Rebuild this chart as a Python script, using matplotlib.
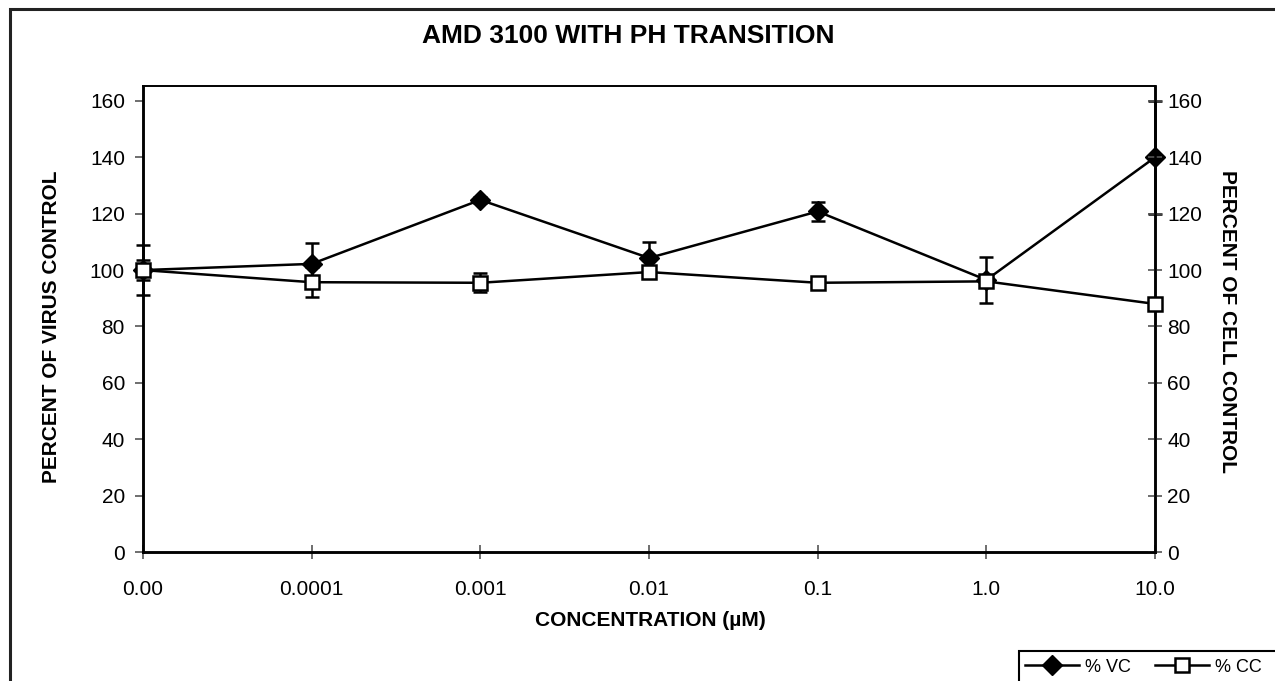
import numpy as np
import matplotlib.pyplot as plt
from matplotlib.patches import Rectangle
from matplotlib.lines import Line2D

plt.rcParams['font.family'] = ['Liberation Sans', 'DejaVu Sans']

# ---- data ----
conc_labels = ['0.00', '0.0001', '0.001', '0.01', '0.1', '1.0', '10.0']
vc_mean = [100.0, 102.2, 124.9, 104.3, 120.8, 96.5, 140.0]
vc_err = [3.5, 7.5, 1.0, 5.7, 3.5, 8.0, 20.0]
cc_mean = [100.0, 95.7, 95.5, 99.3, 95.5, 96.0, 88.0]
cc_err = [9.0, 5.3, 3.4, 0.0, 0.0, 0.0, 0.0]
y_ticks = [0, 20, 40, 60, 80, 100, 120, 140, 160]

W, H = 1275, 681
fig = plt.figure(figsize=(W / 100, H / 100), dpi=100)
fig.patch.set_facecolor('white')

# outer chart border (runs off the right/bottom edge)
fig.patches.append(Rectangle((9.5 / W, -0.1), 1.2, (H - 8.5) / H + 0.1,
                             transform=fig.transFigure, fill=False,
                             edgecolor='#222222', linewidth=2.2, zorder=0))

ax = fig.add_axes([143 / W, 1 - 552 / H, (1155 - 143) / W, (552 - 86) / H])
ax2 = ax.twinx()

x = np.arange(len(conc_labels))
ymax = 165.3

line_kw = dict(color='black', linewidth=1.8, ecolor='black', elinewidth=1.8,
               capsize=5, capthick=1.8, clip_on=False)

ax.errorbar(x, vc_mean, yerr=vc_err, marker='D', markersize=10,
            markerfacecolor='black', markeredgecolor='black',
            zorder=4, **line_kw)
ax2.errorbar(x, cc_mean, yerr=cc_err, marker='s', markersize=10,
             markerfacecolor='white', markeredgecolor='black',
             markeredgewidth=1.8, zorder=5, **line_kw)

for a in (ax, ax2):
    a.set_ylim(0, ymax)
    a.set_yticks(y_ticks)
    a.tick_params(labelsize=15, width=1.2, color='#555555')
    for s in a.spines.values():
        s.set_linewidth(1.8)
    a.spines['top'].set_linewidth(1.2)

ax.set_xlim(0, len(conc_labels) - 1)
ax.set_xticks(x)
ax.set_xticklabels(conc_labels)
ax.tick_params(axis='x', direction='inout', length=10, pad=15)
ax.tick_params(axis='y', direction='out', length=6, pad=7)
ax2.tick_params(axis='y', direction='inout', length=10, pad=4)

# titles and axis labels
fig.text(628 / W, 1 - 36 / H, 'AMD 3100 WITH PH TRANSITION', ha='center',
         va='center', fontsize=19, fontweight='bold')
fig.text(52 / W, 1 - 327 / H, 'PERCENT OF VIRUS CONTROL', ha='center',
         va='center', rotation=90, fontsize=15, fontweight='bold')
fig.text(1228 / W, 1 - 321 / H, 'PERCENT OF CELL CONTROL', ha='center',
         va='center', rotation=270, fontsize=15, fontweight='bold')
fig.text(650 / W, 1 - 620 / H, 'CONCENTRATION (\u00b5M)', ha='center',
         va='center', fontsize=15, fontweight='bold')

# legend: box runs off the right edge of the chart
fig.patches.append(Rectangle((1019 / W, -0.1), 0.3, (H - 651) / H + 0.1,
                             transform=fig.transFigure, fill=False,
                             edgecolor='black', linewidth=1.5, zorder=1))
handles = [
    Line2D([], [], color='black', linewidth=1.8, marker='D', markersize=10,
           markerfacecolor='black', label='% VC'),
    Line2D([], [], color='black', linewidth=1.8, marker='s', markersize=10,
           markerfacecolor='white', markeredgewidth=1.8, label='% CC'),
]
fig.legend(handles=handles, loc='center left',
           bbox_to_anchor=(1025 / W, 1 - 667 / H), ncol=2,
           fontsize=13, frameon=False, handlelength=3.0,
           handletextpad=0.35, columnspacing=1.3, borderpad=0,
           borderaxespad=0)

fig.savefig('out.png', dpi=100, facecolor='white')
